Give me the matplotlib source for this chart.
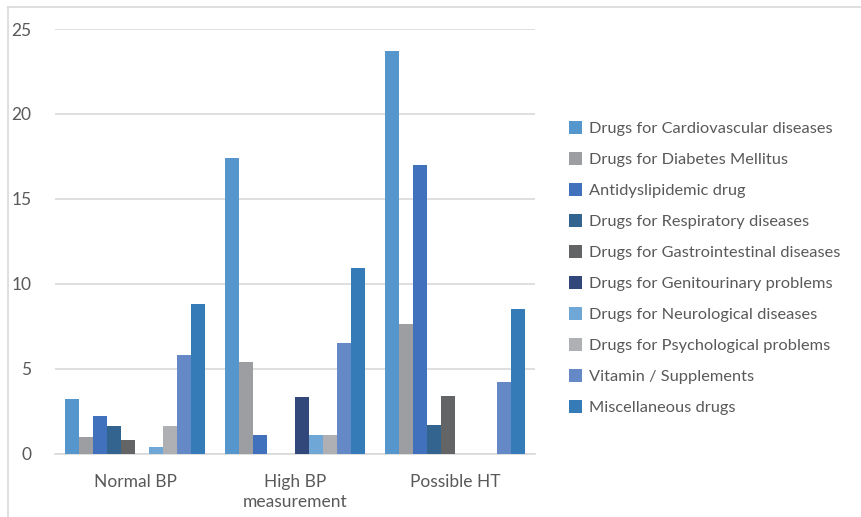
import numpy as np
import matplotlib
matplotlib.use('Agg')
import matplotlib.pyplot as plt
from matplotlib.patches import Patch
from matplotlib.lines import Line2D

plt.rcParams['font.family'] = ['Lato', 'DejaVu Sans']

# data
categories = ['Normal BP', 'High BP\nmeasurement', 'Possible HT']
series = ['Drugs for Cardiovascular diseases', 'Drugs for Diabetes Mellitus',
          'Antidyslipidemic drug', 'Drugs for Respiratory diseases',
          'Drugs for Gastrointestinal diseases', 'Drugs for Genitourinary problems',
          'Drugs for Neurological diseases', 'Drugs for Psychological problems',
          'Vitamin / Supplements', 'Miscellaneous drugs']
cardio = [3.2, 17.4, 23.7]
diabetes = [1.0, 5.4, 7.6]
antidys = [2.2, 1.1, 17.0]
respiratory = [1.6, 0.0, 1.7]
gastro = [0.8, 0.0, 3.4]
genito = [0.0, 3.3, 0.0]
neuro = [0.4, 1.1, 0.0]
psych = [1.6, 1.1, 0.0]
vitamin = [5.8, 6.5, 4.2]
misc = [8.8, 10.9, 8.5]
values = [cardio, diabetes, antidys, respiratory, gastro, genito, neuro, psych, vitamin, misc]
colors = ['#5596CC', '#9D9EA2', '#4171BD', '#33638F', '#636466',
          '#33487A', '#6FA8D6', '#AEB0B3', '#6589C6', '#357BB8']

W, H = 861, 517
fig = plt.figure(figsize=(W / 100, H / 100), dpi=100)
ax = fig.add_axes([55 / W, 1 - 453.5 / H, 480 / W, (453.5 - 29) / H])

x = np.arange(len(categories))
w = 0.875 / len(series)
for i, (vals, c) in enumerate(zip(values, colors)):
    ax.bar(x + (i - 4.5) * w, vals, width=w, color=c, zorder=3)

ax.set_xlim(-0.5, 2.5)
ax.set_ylim(0, 25)
ax.set_yticks(np.arange(0, 26, 5))
ax.yaxis.grid(True, color='#D9D9D9', linewidth=1.2, zorder=0)
for s in ['top', 'right', 'left']:
    ax.spines[s].set_visible(False)
ax.spines['bottom'].set_color('#D9D9D9')
ax.spines['bottom'].set_linewidth(1.2)
ax.tick_params(axis='both', length=0, colors='#595959', labelsize=12.5)
ax.tick_params(axis='y', pad=17)
ax.tick_params(axis='x', pad=15)
ax.set_xticks(x)
ax.set_xticklabels(categories, linespacing=1.25)

handles = [Patch(facecolor=c, edgecolor='none') for c in colors]
fig.legend(handles, series, loc='upper left', bbox_to_anchor=(569 / W, 1 - 121 / H),
           frameon=False, fontsize=11.8, labelspacing=0.98, handlelength=0.8,
           handleheight=0.8, handletextpad=0.4, borderpad=0, borderaxespad=0,
           labelcolor='#595959')

# outer chart border
fig.add_artist(Line2D([8 / W, 8 / W], [0, 1 - 7 / H], transform=fig.transFigure,
                      color='#D9D9D9', linewidth=1.2))
fig.add_artist(Line2D([8 / W, 1], [1 - 7 / H, 1 - 7 / H], transform=fig.transFigure,
                      color='#D9D9D9', linewidth=1.2))

fig.savefig('out.png', dpi=100)
